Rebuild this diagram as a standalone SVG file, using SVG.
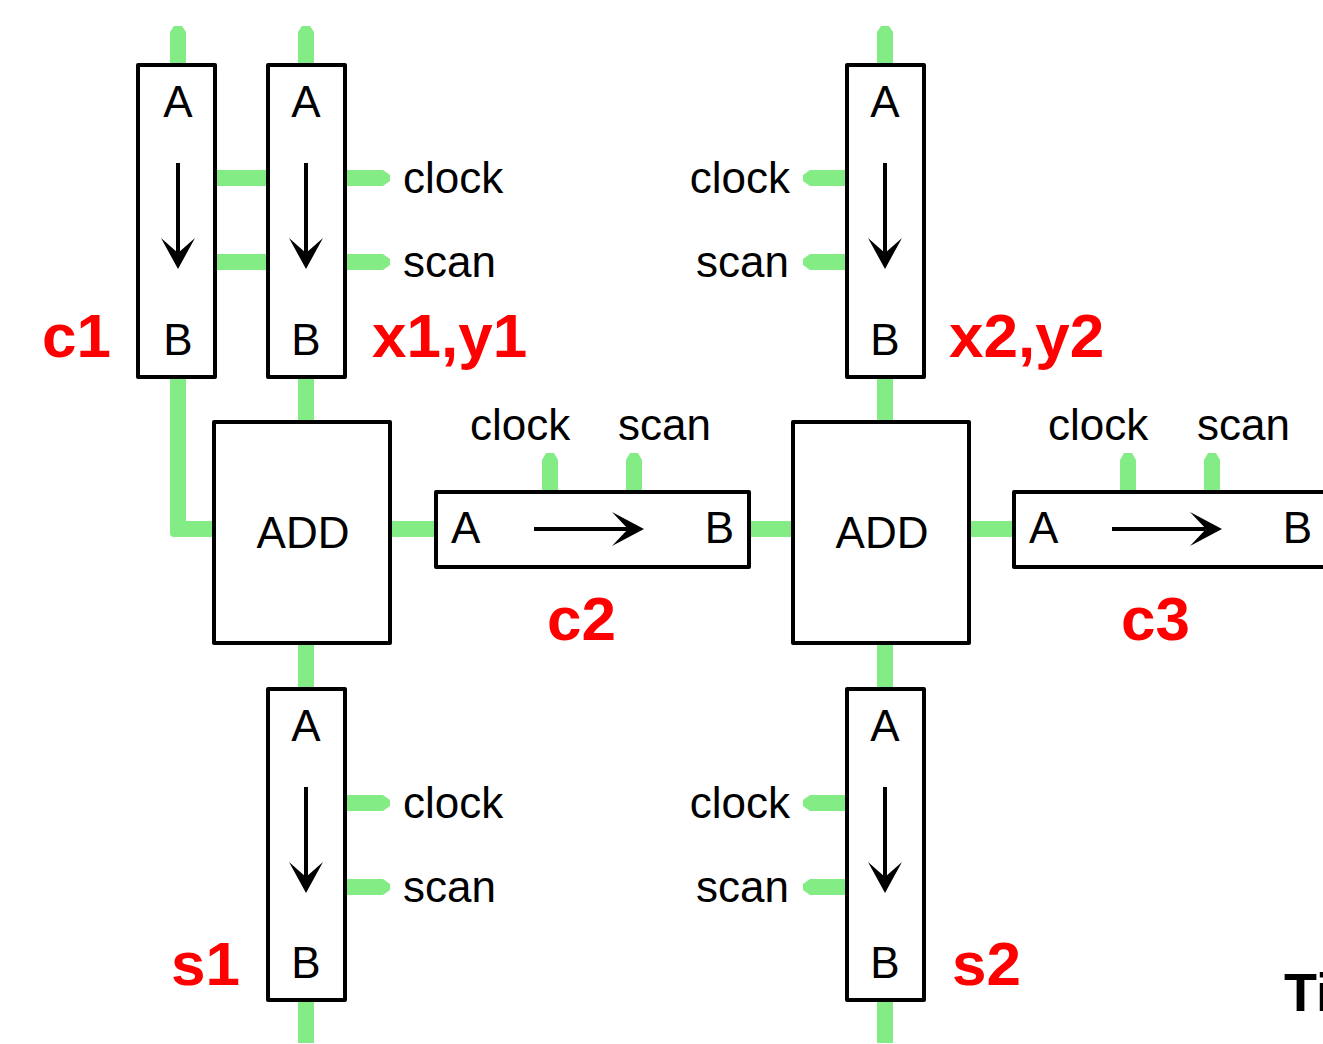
<svg xmlns="http://www.w3.org/2000/svg" width="1323" height="1044" viewBox="0 0 1323 1044">
<style>
.box{fill:#fff;stroke:#000;stroke-width:4;stroke-linejoin:round}
.t{font-family:"Liberation Sans",Arial,sans-serif;font-size:44px;fill:#000}
.lbl{font-family:"Liberation Sans",Arial,sans-serif;font-size:62px;font-weight:bold;fill:#f00}
.shaft{stroke:#000;stroke-width:4}
.head{fill:#000}
.w{fill:#84ec84}
</style>
<rect width="1323" height="1044" fill="#fff"/>
<g id="connectors">
<path class="w" d="M170,66 V32 L174,26 H182 L186,32 V66 Z"/>
<path class="w" d="M298,66 V32 L302,26 H310 L314,32 V66 Z"/>
<path class="w" d="M877,66 V32 L881,26 H889 L893,32 V66 Z"/>
<rect class="w" x="214" y="170" width="56" height="16"/>
<rect class="w" x="214" y="254" width="56" height="16"/>
<path class="w" d="M345,170 H383 L390,175 V181 L383,186 H345 Z"/>
<path class="w" d="M345,254 H383 L390,259 V265 L383,270 H345 Z"/>
<path class="w" d="M848,170 H810 L803,175 V181 L810,186 H848 Z"/>
<path class="w" d="M848,254 H810 L803,259 V265 L810,270 H848 Z"/>
<path class="w" d="M170,376 H186 V521 H215 V537 H174 Q170,537 170,533 Z"/>
<rect class="w" x="298" y="376" width="16" height="47"/>
<rect class="w" x="877" y="376" width="16" height="47"/>
<rect class="w" x="298" y="642" width="16" height="48"/>
<rect class="w" x="877" y="642" width="16" height="48"/>
<rect class="w" x="298" y="999" width="16" height="44"/>
<rect class="w" x="877" y="999" width="16" height="44"/>
<rect class="w" x="389" y="521" width="48" height="16"/>
<rect class="w" x="748" y="521" width="46" height="16"/>
<rect class="w" x="968" y="521" width="47" height="16"/>
<path class="w" d="M542,493 V460 L546,453 H554 L558,460 V493 Z"/>
<path class="w" d="M626,493 V460 L630,453 H638 L642,460 V493 Z"/>
<path class="w" d="M1120,493 V460 L1124,453 H1132 L1136,460 V493 Z"/>
<path class="w" d="M1204,493 V460 L1208,453 H1216 L1220,460 V493 Z"/>
<path class="w" d="M345,795 H383 L390,800 V806 L383,811 H345 Z"/>
<path class="w" d="M345,879 H383 L390,884 V890 L383,895 H345 Z"/>
<path class="w" d="M848,795 H810 L803,800 V806 L810,811 H848 Z"/>
<path class="w" d="M848,879 H810 L803,884 V890 L810,895 H848 Z"/>
</g>

<g id="c1reg" transform="translate(138,65)">
<rect class="box" x="0" y="0" width="77" height="312"/>
<text class="t" x="40" y="52" text-anchor="middle">A</text>
<text class="t" x="40" y="290" text-anchor="middle">B</text>
<line class="shaft" x1="40" y1="98" x2="40" y2="192"/>
<path class="head" d="M40,204 L23,173 L40,188 L57,173 Z"/>
</g>
<g id="x1reg" transform="translate(268,65)">
<rect class="box" x="0" y="0" width="77" height="312"/>
<text class="t" x="38" y="52" text-anchor="middle">A</text>
<text class="t" x="38" y="290" text-anchor="middle">B</text>
<line class="shaft" x1="38" y1="98" x2="38" y2="192"/>
<path class="head" d="M38,204 L21,173 L38,188 L55,173 Z"/>
</g>
<g id="x2reg" transform="translate(847,65)">
<rect class="box" x="0" y="0" width="77" height="312"/>
<text class="t" x="38" y="52" text-anchor="middle">A</text>
<text class="t" x="38" y="290" text-anchor="middle">B</text>
<line class="shaft" x1="38" y1="98" x2="38" y2="192"/>
<path class="head" d="M38,204 L21,173 L38,188 L55,173 Z"/>
</g>
<g id="s1reg" transform="translate(268,689)">
<rect class="box" x="0" y="0" width="77" height="311"/>
<text class="t" x="38" y="52" text-anchor="middle">A</text>
<text class="t" x="38" y="289" text-anchor="middle">B</text>
<line class="shaft" x1="38" y1="98" x2="38" y2="192"/>
<path class="head" d="M38,204 L21,173 L38,188 L55,173 Z"/>
</g>
<g id="s2reg" transform="translate(847,689)">
<rect class="box" x="0" y="0" width="77" height="311"/>
<text class="t" x="38" y="52" text-anchor="middle">A</text>
<text class="t" x="38" y="289" text-anchor="middle">B</text>
<line class="shaft" x1="38" y1="98" x2="38" y2="192"/>
<path class="head" d="M38,204 L21,173 L38,188 L55,173 Z"/>
</g>
<g id="add1">
<rect class="box" x="214" y="422" width="176" height="221"/>
<text class="t" x="303" y="548" text-anchor="middle">ADD</text>
</g>
<g id="add2">
<rect class="box" x="793" y="422" width="176" height="221"/>
<text class="t" x="882" y="548" text-anchor="middle">ADD</text>
</g>
<g id="c2reg" transform="translate(436,492)">
<rect class="box" x="0" y="0" width="313" height="75"/>
<text class="t" x="15" y="51">A</text>
<text class="t" x="298" y="51" text-anchor="end">B</text>
<line class="shaft" x1="98" y1="37" x2="196" y2="37"/>
<path class="head" d="M208,37 L176,20 L192,37 L176,54 Z"/>
</g>
<g id="c3reg" transform="translate(1014,492)">
<rect class="box" x="0" y="0" width="313" height="75"/>
<text class="t" x="15" y="51">A</text>
<text class="t" x="298" y="51" text-anchor="end">B</text>
<line class="shaft" x1="98" y1="37" x2="196" y2="37"/>
<path class="head" d="M208,37 L176,20 L192,37 L176,54 Z"/>
</g>

<g id="texts">
<text class="t" x="403" y="193">clock</text>
<text class="t" x="403" y="277">scan</text>
<text class="t" x="790" y="193" text-anchor="end">clock</text>
<text class="t" x="789" y="277" text-anchor="end">scan</text>
<text class="t" x="470" y="440">clock</text>
<text class="t" x="618" y="440">scan</text>
<text class="t" x="1048" y="440">clock</text>
<text class="t" x="1197" y="440">scan</text>
<text class="t" x="403" y="818">clock</text>
<text class="t" x="403" y="902">scan</text>
<text class="t" x="790" y="818" text-anchor="end">clock</text>
<text class="t" x="789" y="902" text-anchor="end">scan</text>
</g>
<g id="labels">
<text class="lbl" x="42" y="357">c1</text>
<text class="lbl" x="372" y="357">x1,y1</text>
<text class="lbl" x="949" y="357">x2,y2</text>
<text class="lbl" x="547" y="640">c2</text>
<text class="lbl" x="1121" y="640">c3</text>
<text class="lbl" x="171" y="985">s1</text>
<text class="lbl" x="952" y="985">s2</text>
<text x="1284" y="1011" font-family="Liberation Sans, Arial, sans-serif" font-size="54" font-weight="bold" fill="#000">Ti</text>
</g>
</svg>
